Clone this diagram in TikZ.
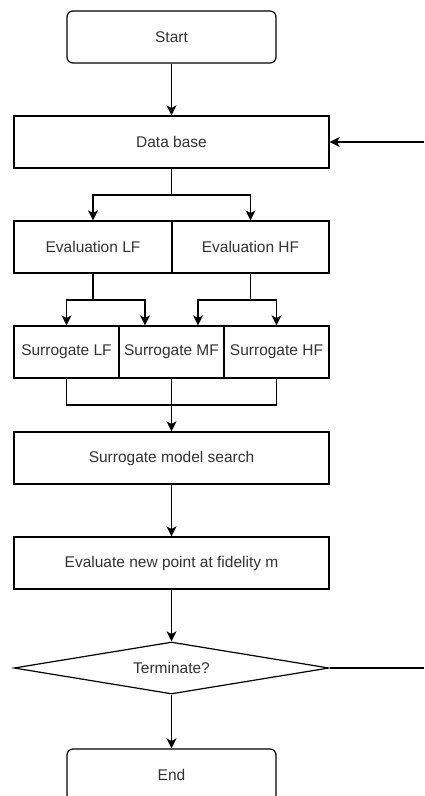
\documentclass[tikz,border=0pt]{standalone}
\usepackage{fontspec}
\setmainfont{Liberation Sans}
\usetikzlibrary{shapes.geometric,arrows.meta,calc}
\definecolor{txt}{HTML}{333333}
\begin{document}
\begin{tikzpicture}[x=1pt,y=-1pt,
  every node/.style={font=\fontsize{15.5}{18}\selectfont, text=txt},
  box/.style={draw, line width=1.2pt, rectangle, minimum height=52pt, inner sep=0pt},
  term/.style={box, rounded corners=6pt},
  dec/.style={draw, line width=1.2pt, diamond, shape aspect=6.06, minimum width=315pt, minimum height=52pt, inner sep=0pt},
  conn/.style={line width=1.2pt},
  arr/.style={conn, -{Stealth[length=10pt,width=10pt,inset=2.5pt]}}]
\useasboundingbox (0,0) rectangle (424,796);
\fill[white] (0,0) rectangle (424,796);
\node[term, minimum width=209pt] (start) at (171.5,37) {Start};
\node[box, minimum width=315pt] (db) at (171.5,142) {Data base};
\node[box, minimum width=158pt] (elf) at (93,247) {Evaluation LF};
\node[box, minimum width=157pt] (ehf) at (250.5,247) {Evaluation HF};
\node[box, minimum width=105pt] (slf) at (66.5,352) {Surrogate LF};
\node[box, minimum width=105pt] (smf) at (171.5,352) {Surrogate MF};
\node[box, minimum width=105pt] (shf) at (276.5,352) {Surrogate HF};
\node[box, minimum width=315pt] (search) at (171.5,458) {Surrogate model search};
\node[box, minimum width=315pt] (evalnew) at (171.5,563) {Evaluate new point at fidelity m};
\node[dec] (stop) at (171.5,668) {Terminate?};
\node[term, minimum width=209pt, text depth=0pt] (end) at (171.5,775) {End};
\coordinate (jtop) at (171.5,195);
\coordinate (jlf) at (93,300);
\coordinate (jhf) at (250.5,300);
\coordinate (jbot) at (171.5,405);
\coordinate (loopa) at (424,668);
\coordinate (loopb) at (424,142);
\draw[arr] (start) -- (db);
\draw[conn] (db.south) -- (jtop);
\draw[arr] (jtop) -| (elf.north);
\draw[arr] (jtop) -| (ehf.north);
\draw[conn] (elf.south) -- (jlf);
\draw[arr] (jlf) -| (slf.north);
\draw[arr] (jlf) -| ($(smf.north)+(-26.5,0)$);
\draw[conn] (ehf.south) -- (jhf);
\draw[arr] (jhf) -| ($(smf.north)+(26.5,0)$);
\draw[arr] (jhf) -| (shf.north);
\draw[conn] (slf.south) |- (jbot) -| (shf.south);
\draw[conn] (smf.south) -- (jbot);
\draw[arr] (jbot) -- (search.north);
\draw[arr] (search) -- (evalnew);
\draw[arr] (evalnew) -- (stop);
\draw[arr] (stop) -- (end);
\draw[conn] (stop.east) -- (loopa);
\draw[arr] (loopb) -- (db.east);
\end{tikzpicture}
\end{document}
